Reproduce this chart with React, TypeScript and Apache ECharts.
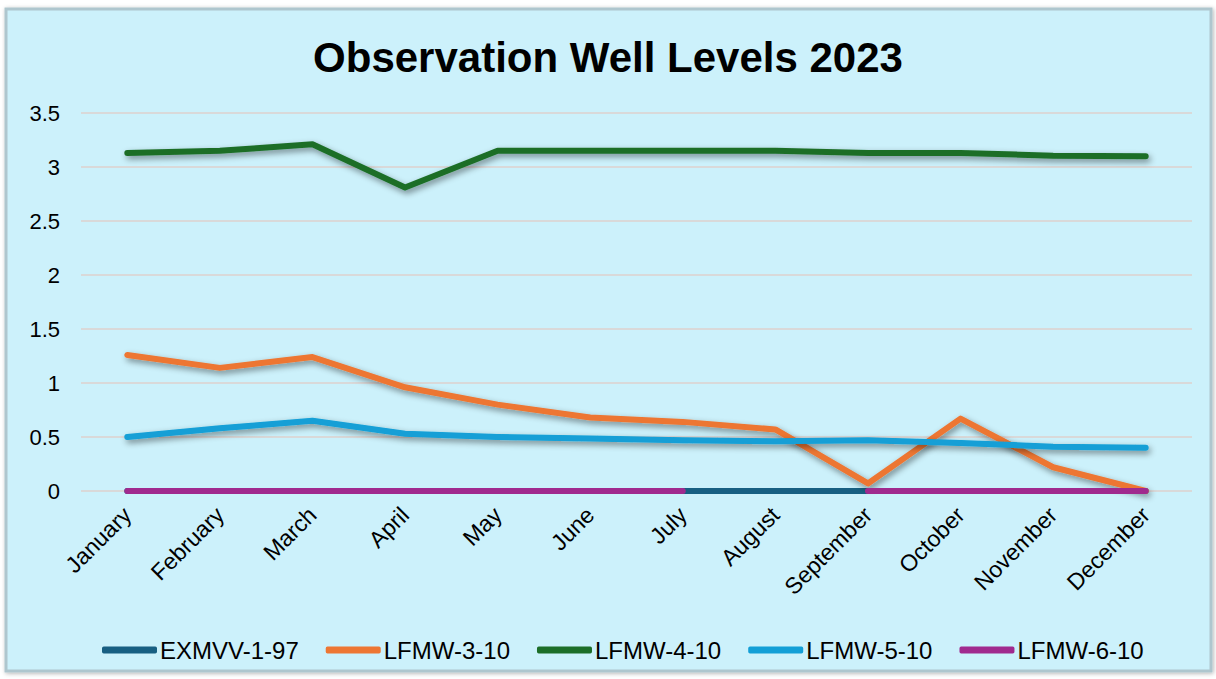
import React, { useEffect, useRef } from "react";
import * as echarts from "echarts";

const months = ["January", "February", "March", "April", "May", "June", "July", "August", "September", "October", "November", "December"];
const exmvv197 = [0, 0, 0, 0, 0, 0, 0, 0, 0, 0, 0, 0];
const lfmw310 = [1.26, 1.14, 1.24, 0.96, 0.8, 0.68, 0.64, 0.57, 0.07, 0.67, 0.22, 0.0];
const lfmw410 = [3.13, 3.15, 3.21, 2.81, 3.15, 3.15, 3.15, 3.15, 3.13, 3.13, 3.105, 3.1];
const lfmw510 = [0.5, 0.58, 0.65, 0.53, 0.5, 0.485, 0.47, 0.46, 0.47, 0.445, 0.41, 0.4];
const lfmw610 = [0, 0, 0, 0, 0, 0, 0, null, 0, 0, 0, 0];
const yTicks = [0, 0.5, 1, 1.5, 2, 2.5, 3, 3.5];

const seriesDefs = [
  { name: "EXMVV-1-97", data: exmvv197, color: "#175f82" },
  { name: "LFMW-3-10", data: lfmw310, color: "#ed7633" },
  { name: "LFMW-4-10", data: lfmw410, color: "#1c6e28" },
  { name: "LFMW-5-10", data: lfmw510, color: "#139fd6" },
  { name: "LFMW-6-10", data: lfmw610, color: "#a02a8e" },
];

function isFlat(d: (number | null)[]) {
  const v = d.filter((x) => x !== null) as number[];
  return v.every((x) => x === v[0]);
}

export default function App() {
  const ref = useRef<HTMLDivElement>(null);
  useEffect(() => {
    if (!ref.current) return;
    const chart = echarts.init(ref.current, undefined, { renderer: "svg" });
    chart.setOption({
      animation: false,
      backgroundColor: "#ffffff",
      graphic: [
        {
          type: "rect",
          z: -10,
          silent: true,
          shape: { x: 6, y: 9, width: 1205, height: 662 },
          style: {
            fill: "#ccf1fb",
            stroke: "#aec6ce",
            lineWidth: 3,
            shadowBlur: 4,
            shadowColor: "rgba(0,0,0,0.3)",
            shadowOffsetX: 1,
            shadowOffsetY: 1,
          },
        },
      ],
      title: {
        text: "Observation Well Levels 2023",
        left: "center",
        top: 31,
        textStyle: { fontFamily: "Liberation Sans, Arial", fontWeight: "bold", fontSize: 42, color: "#000" },
      },
      legend: {
        left: 97,
        top: 633,
        icon: "roundRect",
        itemWidth: 55,
        itemHeight: 7,
        itemGap: 27,
        textStyle: { fontFamily: "Liberation Sans, Arial", fontSize: 24, color: "#000", padding: [0, 0, 0, -2] },
        data: seriesDefs.map((s) => s.name),
      },
      grid: { left: 81, right: 24, top: 113, bottom: 188, containLabel: false },
      xAxis: {
        type: "category",
        data: months,
        boundaryGap: true,
        axisLine: { show: false },
        axisTick: { show: false },
        axisLabel: {
          rotate: 45,
          interval: 0,
          margin: 20,
          fontFamily: "Liberation Sans, Arial",
          fontSize: 23,
          color: "#000",
        },
      },
      yAxis: {
        type: "value",
        min: yTicks[0],
        max: yTicks[yTicks.length - 1],
        interval: 0.5,
        axisLine: { show: false },
        axisTick: { show: false },
        splitLine: { lineStyle: { color: "#d9d9d9", width: 2 } },
        axisLabel: {
          margin: 21,
          fontFamily: "Liberation Sans, Arial",
          fontSize: 22,
          color: "#000",
        },
      },
      series: seriesDefs.map((s) => {
        const flat = isFlat(s.data);
        const shadow = flat
          ? {}
          : { shadowColor: "rgba(0,0,0,0.45)", shadowBlur: 6, shadowOffsetX: 2, shadowOffsetY: 3 };
        return {
          name: s.name,
          type: "line",
          data: s.data,
          color: s.color,
          symbol: "none",
          clip: false,
          connectNulls: false,
          lineStyle: { width: 6, color: s.color, cap: "round", join: "round", ...shadow },
          itemStyle: { color: s.color },
        };
      }),
    });
    return () => chart.dispose();
  }, []);
  return <div ref={ref} style={{ position: "fixed", left: 0, top: 0, width: 1216, height: 679 }} />;
}
